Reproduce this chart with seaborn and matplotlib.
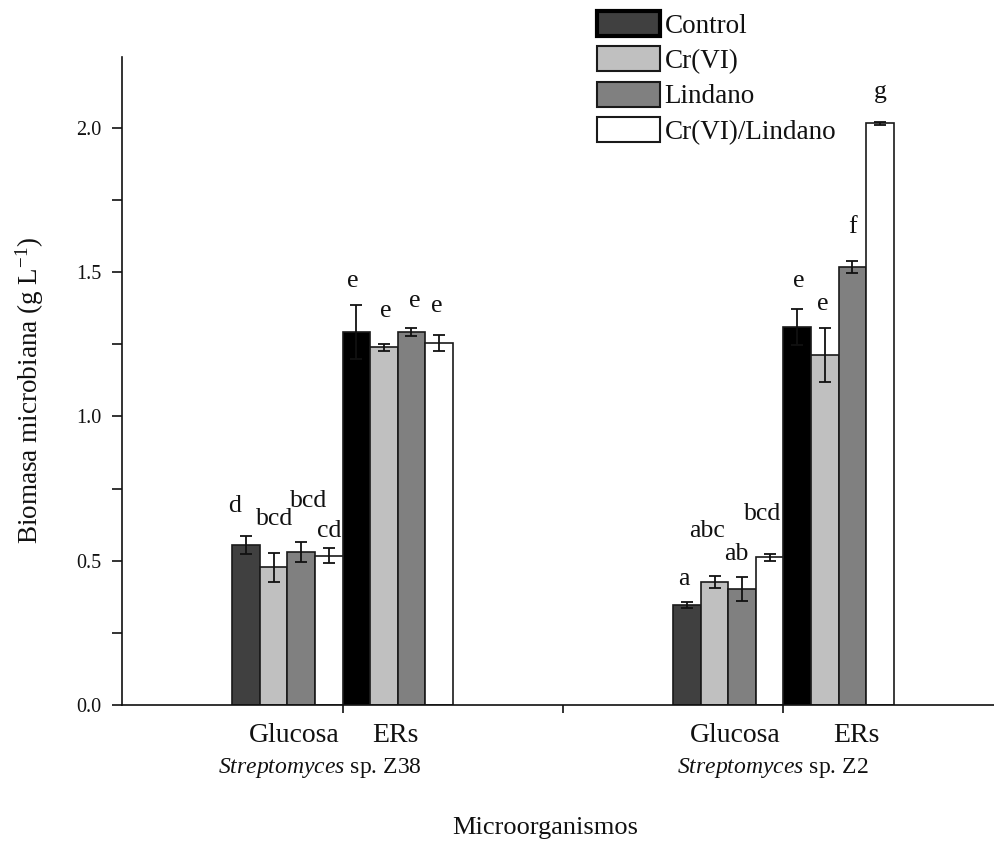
import numpy as np
import pandas as pd
import seaborn as sns
import matplotlib
matplotlib.use("Agg")
import matplotlib.pyplot as plt
from matplotlib.patches import Patch
from matplotlib.ticker import MultipleLocator, FixedLocator, NullFormatter

# ---- data ----------------------------------------------------------------
treatments = ["Control", "Cr(VI)", "Lindano", "Cr(VI)/Lindano"]
strains = ["Z38", "Z2"]
substrates = ["Glucosa", "ERs"]

z38_glucosa = [0.555, 0.478, 0.530, 0.518]
z38_glucosa_err = [0.030, 0.050, 0.034, 0.025]
z38_ers = [1.293, 1.240, 1.293, 1.255]
z38_ers_err = [0.093, 0.012, 0.014, 0.028]
z2_glucosa = [0.347, 0.425, 0.402, 0.512]
z2_glucosa_err = [0.010, 0.021, 0.040, 0.012]
z2_ers = [1.311, 1.213, 1.518, 2.017]
z2_ers_err = [0.062, 0.094, 0.020, 0.005]

z38_glucosa_sig = ["d", "bcd", "bcd", "cd"]
z38_ers_sig = ["e", "e", "e", "e"]
z2_glucosa_sig = ["a", "abc", "ab", "bcd"]
z2_ers_sig = ["e", "e", "f", "g"]

# ---- layout for the significance letters (baseline height, x shift in px) --
sig_baseline = {
    ("Z38", "Glucosa"): [0.669, 0.624, 0.686, 0.582],
    ("Z38", "ERs"): [1.449, 1.345, 1.380, 1.362],
    ("Z2", "Glucosa"): [0.416, 0.582, 0.503, 0.641],
    ("Z2", "ERs"): [1.449, 1.369, 1.636, 2.104],
}
sig_dx_px = {
    ("Z38", "Glucosa"): [-11, 1, 7, 0],
    ("Z38", "ERs"): [-4, 2, 3, -2],
    ("Z2", "Glucosa"): [-3, -8, -6, -7],
    ("Z2", "ERs"): [1, -2, 0, 0],
}

series = {
    ("Z38", "Glucosa"): (z38_glucosa, z38_glucosa_err, z38_glucosa_sig),
    ("Z38", "ERs"): (z38_ers, z38_ers_err, z38_ers_sig),
    ("Z2", "Glucosa"): (z2_glucosa, z2_glucosa_err, z2_glucosa_sig),
    ("Z2", "ERs"): (z2_ers, z2_ers_err, z2_ers_sig),
}

rows = []
for si, strain in enumerate(strains):
    for ui, sub in enumerate(substrates):
        vals, errs, sigs = series[(strain, sub)]
        pos = 0.75 + 2.0 * si + 0.5 * ui
        for t, v, e, s in zip(treatments, vals, errs, sigs):
            rows.append(dict(cepa=strain, sustrato=sub, tratamiento=t,
                             biomasa=v, err=e, sig=s, pos=pos))
df = pd.DataFrame(rows)

# ---- style ---------------------------------------------------------------
sns.set_style("ticks")
plt.rcParams["font.family"] = ["Liberation Serif", "DejaVu Serif"]
plt.rcParams["mathtext.fontset"] = "custom"
plt.rcParams["mathtext.rm"] = "Liberation Serif"
plt.rcParams["mathtext.it"] = "Liberation Serif:italic"
text_color = "#111111"

palette = {"Control": "#404040", "Cr(VI)": "#c0c0c0",
           "Lindano": "#808080", "Cr(VI)/Lindano": "#ffffff"}

fig = plt.figure(figsize=(9.94, 8.41), dpi=100)
W, H = 994, 841
ax = fig.add_axes([122 / W, 1 - 705 / H, 1 - 122 / W, (705 - 57) / H])

sns.barplot(data=df, x="pos", y="biomasa", hue="tratamiento",
            hue_order=treatments, palette=palette, native_scale=True,
            width=1.0, errorbar=None, edgecolor="#1a1a1a", linewidth=1.2,
            legend=False, zorder=2, ax=ax)

ax.set_xlim(0, (W - 122) / 220.5)
ax.set_ylim(0, 2.246)

# px -> data conversion for x shifts
px_per_unit = 220.5

for container, level in zip(ax.containers, treatments):
    sub = df[df["tratamiento"] == level].sort_values("pos")
    bars = sorted(container.patches, key=lambda p: p.get_x())
    for bar, row in zip(bars, sub.itertuples()):
        if level == "Control" and row.sustrato == "ERs":
            bar.set_facecolor("#000000")
        cx = bar.get_x() + bar.get_width() / 2
        top = bar.get_height()
        ax.errorbar(cx, top, yerr=row.err, fmt="none", ecolor="#111111",
                    elinewidth=1.3, capsize=4.3, capthick=1.3, zorder=3)
        k = treatments.index(level)
        key = (row.cepa, row.sustrato)
        ax.text(cx + sig_dx_px[key][k] / px_per_unit, sig_baseline[key][k],
                row.sig, ha="center", va="baseline", fontsize=18.5,
                color=text_color, zorder=1, clip_on=False)

# ---- axes ----------------------------------------------------------------
sns.despine(ax=ax, top=True, right=True)
for s in ("left", "bottom"):
    ax.spines[s].set_linewidth(1.2)
    ax.spines[s].set_color("#111111")

ax.yaxis.set_major_locator(MultipleLocator(0.5))
ax.yaxis.set_minor_locator(MultipleLocator(0.25))
ax.set_yticklabels([f"{v:.1f}" for v in ax.get_yticks()])
ax.xaxis.set_major_locator(FixedLocator([1, 2, 3]))
ax.xaxis.set_major_formatter(NullFormatter())
ax.tick_params(axis="y", which="both", direction="out", length=7, width=1.2,
               color="#111111", labelsize=14.5, labelcolor=text_color, pad=8)
ax.tick_params(axis="x", which="major", direction="out", length=6, width=1.2,
               color="#111111")
ax.set_xlabel("")
ax.set_ylabel("")

# category labels under the axis
tr = ax.get_xaxis_transform()
cat_y = (705 - 735) / 648
sp_y = (705 - 768) / 648
for si, strain in enumerate(strains):
    base = 2.0 * si
    ax.text(base + 0.576, cat_y, substrates[0], transform=tr, ha="left",
            va="center", fontsize=20, color=text_color)
    ax.text(base + 1.134 + (0.09 if si else 0), cat_y, substrates[1],
            transform=tr, ha="left", va="center", fontsize=20,
            color=text_color)
    ax.text(base + 0.435 + (0.082 if si else 0), sp_y,
            r"$\mathit{Streptomyces}$" + f" sp. {strain}", transform=tr,
            ha="left", va="center", fontsize=17, color=text_color)

fig.text(545 / W, 1 - 828 / H, "Microorganismos", ha="center", va="center",
         fontsize=19, color=text_color)
fig.text(30 / W, 1 - 390 / H, r"Biomasa microbiana (g L$^{\mathregular{-1}}$)",
         rotation=90, ha="center", va="center", fontsize=19.5, color=text_color)

# ---- legend ----------------------------------------------------------------
handles = []
for t in treatments:
    if t == "Control":
        handles.append(Patch(facecolor=palette[t], edgecolor="#000000",
                             linewidth=3.0, label=t))
    else:
        handles.append(Patch(facecolor=palette[t], edgecolor="#1a1a1a",
                             linewidth=1.5, label=t))
leg = fig.legend(handles=handles, loc="upper left",
                 bbox_to_anchor=(586 / W, 1 - 0 / H), frameon=False,
                 fontsize=19.5, handlelength=2.35, handleheight=1.05,
                 handletextpad=0.15, labelspacing=0.28, borderaxespad=0)
for txt in leg.get_texts():
    txt.set_color(text_color)

fig.savefig("out.png", dpi=100)
